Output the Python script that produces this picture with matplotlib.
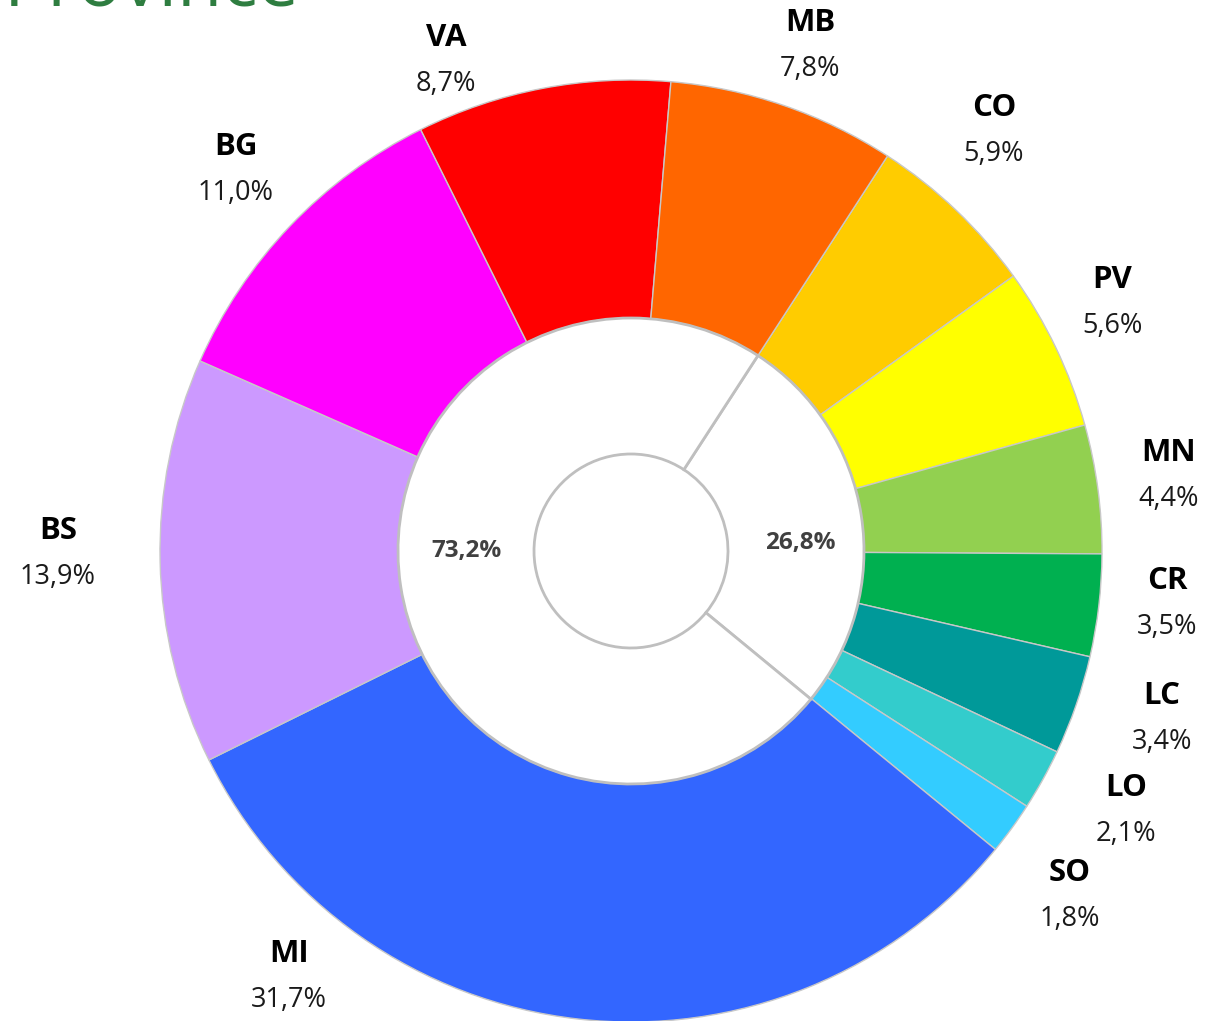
import matplotlib.pyplot as plt

# Province shares (%), clockwise from the top-right group
provinces = ["CO", "PV", "MN", "CR", "LC", "LO", "SO", "MI", "BS", "BG", "VA", "MB"]
shares = [5.9, 5.6, 4.4, 3.5, 3.4, 2.1, 1.8, 31.7, 13.9, 11.0, 8.7, 7.8]
colors = ["#FFCC00", "#FFFF00", "#92D050", "#00B050", "#009999", "#33CCCC",
          "#33CCFF", "#3366FF", "#CC99FF", "#FF00FF", "#FF0000", "#FF6600"]

group_shares = [26.8, 73.2]

# label anchor points in pixels (centre of the name line)
label_px = {
    "VA": (446, 38), "MB": (810, 23), "CO": (994, 108), "BG": (236, 147),
    "PV": (1112, 280), "MN": (1169, 453), "BS": (58, 531), "CR": (1167, 581),
    "LC": (1162, 696), "LO": (1126, 788), "SO": (1070, 873), "MI": (289, 954),
}
group_label_px = [(800, 543), (466, 551)]

W, H = 1206, 1021
CX, CY, R = 631, 551, 471


def px(x, y):
    return (x - CX) / R, (CY - y) / R


plt.rcParams['font.family'] = ['Open Sans', 'DejaVu Sans']

fig = plt.figure(figsize=(W / 100, H / 100), dpi=100)
ax = fig.add_axes([0, 0, 1, 1])

ax.pie(shares, colors=colors, startangle=57, counterclock=False, radius=1.0,
       wedgeprops=dict(width=(R - 233) / R, edgecolor="#c8c8c8", linewidth=1.0))
ax.pie(group_shares, colors=["white", "white"], startangle=57, counterclock=False,
       radius=233 / R,
       wedgeprops=dict(width=(233 - 97) / R, edgecolor="#bfbfbf", linewidth=2.0))

for name, val in zip(provinces, shares):
    x, y = px(*label_px[name])
    ax.text(x, y, name, ha="center", va="center", fontsize=22.5,
            fontweight="bold", color="black")
    ax.text(x, y - 46 / R, f"{val:.1f}%".replace(".", ","), ha="center",
            va="center", fontsize=19.5, color="#1a1a1a")

for val, (lx, ly) in zip(group_shares, group_label_px):
    x, y = px(lx, ly)
    ax.text(x, y, f"{val:.1f}%".replace(".", ","), ha="center", va="center",
            fontsize=17.5, fontweight="bold", color="#404040")

fig.text(4 / W, 1 - 5 / H, "Province", ha="left", va="baseline",
         fontsize=53, color="#2E7D40")

ax.set_xlim(-CX / R, (W - CX) / R)
ax.set_ylim(-(H - CY) / R, CY / R)
ax.set_aspect("equal", adjustable="box")
ax.axis("off")

fig.savefig("out.png", dpi=100)
